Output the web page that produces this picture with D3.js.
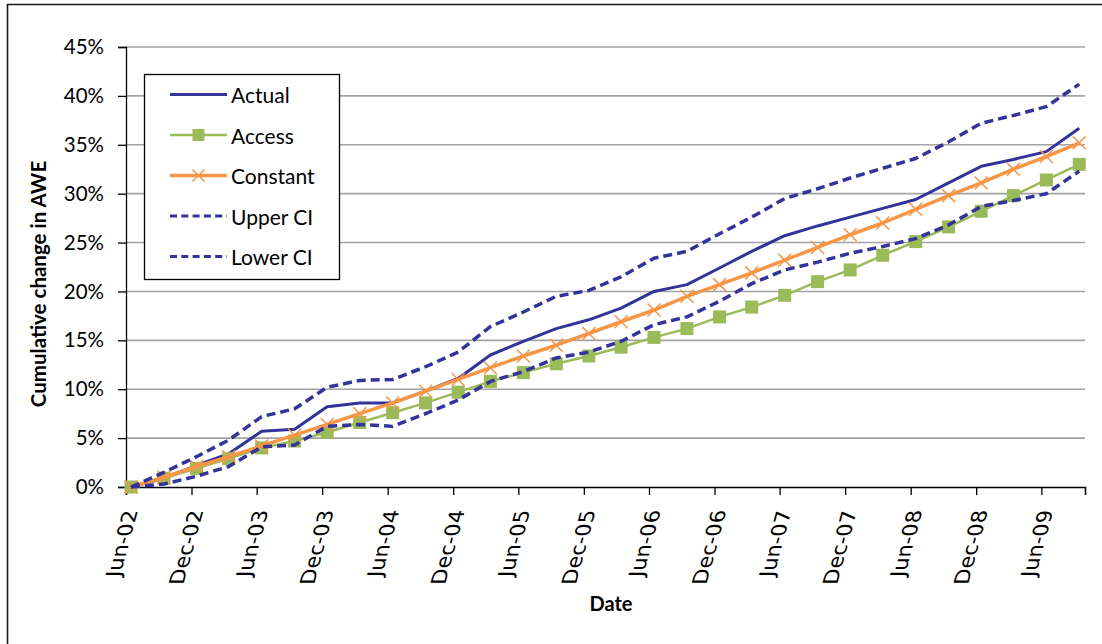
<!DOCTYPE html>
<html>
<head>
<meta charset="utf-8">
<script src="https://cdn.jsdelivr.net/npm/d3@7"></script>
<style>
  html, body { margin: 0; padding: 0; background: #fff; }
  svg { display: block; }
</style>
</head>
<body>
<svg id="chart" width="1102" height="644"></svg>
<script>
// Quarterly observation dates
const dates = [
  "2002-06-15","2002-09-15","2002-12-15","2003-03-15","2003-06-15","2003-09-15",
  "2003-12-15","2004-03-15","2004-06-15","2004-09-15","2004-12-15","2005-03-15",
  "2005-06-15","2005-09-15","2005-12-15","2006-03-15","2006-06-15","2006-09-15",
  "2006-12-15","2007-03-15","2007-06-15","2007-09-15","2007-12-15","2008-03-15",
  "2008-06-15","2008-09-15","2008-12-15","2009-03-15","2009-06-15","2009-09-15"
];

// Cumulative change in AWE (%)
const actual   = [0,0.9,2.2,3.4,5.7,5.9,8.2,8.6,8.6,9.8,11.1,13.5,14.9,16.2,17.1,18.3,20.0,20.7,22.4,24.1,25.7,26.7,27.6,28.5,29.4,31.1,32.8,33.5,34.3,36.7];
const access   = [0,0.9,1.9,2.9,4.0,4.7,5.6,6.6,7.6,8.6,9.7,10.8,11.7,12.6,13.4,14.3,15.3,16.2,17.4,18.4,19.6,21.0,22.2,23.7,25.1,26.6,28.2,29.8,31.4,33.0];
const constant = [0,1.0,2.1,3.1,4.2,5.3,6.4,7.5,8.6,9.8,11.0,12.2,13.4,14.5,15.7,16.9,18.1,19.5,20.7,21.9,23.2,24.5,25.8,27.0,28.4,29.8,31.1,32.5,33.8,35.2];
const upperCI  = [0,1.5,3.1,4.8,7.2,8.0,10.2,10.9,11.0,12.3,13.8,16.4,17.9,19.5,20.1,21.5,23.4,24.1,25.9,27.6,29.5,30.5,31.6,32.6,33.6,35.3,37.2,38.0,38.9,41.2];
const lowerCI  = [0,0.3,1.1,2.1,4.1,4.3,6.2,6.4,6.2,7.5,8.9,10.8,11.8,13.2,13.8,14.9,16.6,17.4,19.0,20.8,22.2,23.0,23.9,24.6,25.4,26.8,28.7,29.3,30.0,32.3];

// Axis labels
const xTickLabels = ["Jun-02","Dec-02","Jun-03","Dec-03","Jun-04","Dec-04","Jun-05","Dec-05",
                     "Jun-06","Dec-06","Jun-07","Dec-07","Jun-08","Dec-08","Jun-09"];
const yTicks = [0,5,10,15,20,25,30,35,40,45];
const xTitle = "Date";
const yTitle = "Cumulative change in AWE";

const series = [
  { name: "Actual",   values: actual,   color: "#333399", width: 3,   dash: null,  marker: null },
  { name: "Access",   values: access,   color: "#9BBB59", width: 2.5, dash: null,  marker: "square" },
  { name: "Constant", values: constant, color: "#F79646", width: 3.5, dash: null,  marker: "x" },
  { name: "Upper CI", values: upperCI,  color: "#333399", width: 3.5, dash: "9,5", marker: null },
  { name: "Lower CI", values: lowerCI,  color: "#333399", width: 3.5, dash: "9,5", marker: null }
];

const svg = d3.select("#chart");
const W = 1102, H = 644;
const plot = { left: 126, right: 1085, top: 47, bottom: 487 };

const parseISO = d3.timeParse("%Y-%m-%d");
const parseTick = d3.timeParse("%b-%y");
const xDates = dates.map(parseISO);
const tickDates = xTickLabels.map(parseTick);

const x = d3.scaleTime()
  .domain([parseTick("Jun-02"), new Date(2009, 9, 1)])
  .range([plot.left, plot.right]);
const y = d3.scaleLinear().domain([0, 45]).range([plot.bottom, plot.top]);

// Outer frame
svg.append("path")
  .attr("d", `M7.5,${H} L7.5,4.5 L${W},4.5`)
  .attr("fill", "none").attr("stroke", "#1a1a1a").attr("stroke-width", 1.6);

// Horizontal gridlines
svg.append("g").selectAll("line")
  .data(yTicks.filter(t => t > 0))
  .join("line")
  .attr("x1", plot.left).attr("x2", plot.right)
  .attr("y1", d => y(d)).attr("y2", d => y(d))
  .attr("stroke", "#a3a3a3").attr("stroke-width", 1.6);

// Y axis
const yAxis = svg.append("g")
  .attr("transform", `translate(${plot.left},0)`)
  .call(d3.axisLeft(y).tickValues(yTicks).tickFormat(d => d + "%").tickSize(8).tickPadding(14));
yAxis.select(".domain").attr("stroke", "#000").attr("stroke-width", 1.3);
yAxis.selectAll(".tick line").attr("stroke", "#000").attr("stroke-width", 1.3);
yAxis.selectAll(".tick text")
  .attr("font-family", "Lato, 'Open Sans', sans-serif")
  .attr("font-size", 20.5).attr("fill", "#000");

// X axis
const xAxis = svg.append("g")
  .attr("transform", `translate(0,${plot.bottom})`)
  .call(d3.axisBottom(x).tickValues(tickDates).tickFormat("").tickSize(8));
xAxis.select(".domain").attr("stroke", "#000").attr("stroke-width", 1.6);
xAxis.selectAll(".tick line").attr("stroke", "#000").attr("stroke-width", 1.3);

// Slanted date labels, end anchored just under each tick
const lean = 0.27, along = 1.27, across = 1.25;
svg.append("g").selectAll("text")
  .data(tickDates)
  .join("text")
  .attr("transform", d => `matrix(${lean * along},${-along},${across},0,${x(d) + 12},${plot.bottom + 23})`)
  .attr("text-anchor", "end")
  .attr("font-family", "'DejaVu Sans', Verdana, sans-serif")
  .attr("font-size", 16.5)
  .attr("fill", "#000")
  .text((d, i) => xTickLabels[i]);

// Axis titles
svg.append("text")
  .attr("x", 611).attr("y", 603)
  .attr("text-anchor", "middle").attr("dominant-baseline", "central")
  .attr("font-family", "Lato, sans-serif").attr("font-weight", "bold")
  .attr("font-size", 20).text(xTitle);

svg.append("text")
  .attr("transform", "translate(38,284) rotate(-90)")
  .attr("text-anchor", "middle").attr("dominant-baseline", "central")
  .attr("font-family", "Lato, sans-serif").attr("font-weight", "bold")
  .attr("font-size", 20.5).text(yTitle);

// Series lines and markers
const line = d3.line().x((d, i) => x(xDates[i])).y(d => y(d));
const marks = svg.append("g");
series.forEach(s => {
  marks.append("path")
    .datum(s.values)
    .attr("d", line)
    .attr("fill", "none")
    .attr("stroke", s.color)
    .attr("stroke-width", s.width)
    .attr("stroke-dasharray", s.dash)
    .attr("stroke-linejoin", "round");
  if (s.marker === "square") {
    marks.append("g").selectAll("rect")
      .data(s.values)
      .join("rect")
      .attr("x", (d, i) => x(xDates[i]) - 6.5)
      .attr("y", d => y(d) - 6.5)
      .attr("width", 13).attr("height", 13)
      .attr("fill", s.color);
  } else if (s.marker === "x") {
    marks.append("g").selectAll("path")
      .data(s.values)
      .join("path")
      .attr("transform", (d, i) => `translate(${x(xDates[i])},${y(d)})`)
      .attr("d", "M-6.5,-6.5L6.5,6.5M-6.5,6.5L6.5,-6.5")
      .attr("stroke", s.color).attr("stroke-width", 1.5).attr("fill", "none");
  }
});

// Legend
const legend = svg.append("g");
legend.append("rect")
  .attr("x", 144.5).attr("y", 74.5).attr("width", 195).attr("height", 205)
  .attr("fill", "#fff").attr("stroke", "#000").attr("stroke-width", 1.3);
const rowY = d3.scalePoint().domain(series.map(s => s.name)).range([94.5, 256.5]);
series.forEach(s => {
  const cy = rowY(s.name);
  legend.append("line")
    .attr("x1", 170).attr("x2", 227).attr("y1", cy).attr("y2", cy)
    .attr("stroke", s.color).attr("stroke-width", s.dash ? 3 : s.width)
    .attr("stroke-dasharray", s.dash ? "7,4.3" : null);
  if (s.marker === "square") {
    legend.append("rect").attr("x", 198.5 - 6).attr("y", cy - 6)
      .attr("width", 12).attr("height", 12).attr("fill", s.color);
  } else if (s.marker === "x") {
    legend.append("path")
      .attr("transform", `translate(198.5,${cy})`)
      .attr("d", "M-6,-6L6,6M-6,6L6,-6")
      .attr("stroke", s.color).attr("stroke-width", 1.5);
  }
  legend.append("text")
    .attr("x", 231).attr("y", cy)
    .attr("dominant-baseline", "central")
    .attr("font-family", "Lato, sans-serif")
    .attr("font-size", 21).attr("fill", "#000")
    .text(s.name);
});
</script>
</body>
</html>
